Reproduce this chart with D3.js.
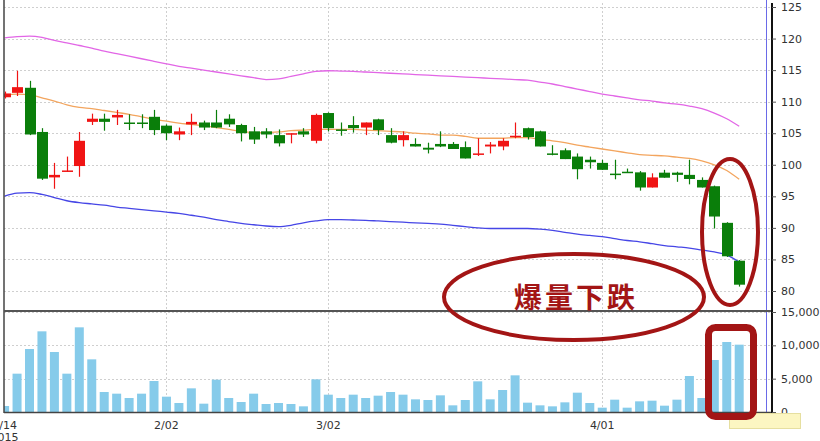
<!DOCTYPE html>
<html><head><meta charset="utf-8">
<script src="https://cdn.jsdelivr.net/npm/d3@7"></script>
<style>body{margin:0;background:#fff;overflow:hidden}svg{display:block;font-family:"DejaVu Sans",Verdana,sans-serif}</style>
</head><body><svg id="c" width="820" height="441"></svg>
<script>
const dates = ["1/14","1/15","1/16","1/19","1/20","1/21","1/22","1/23","1/26","1/27","1/28","1/29","1/30",
  "2/02","2/03","2/04","2/05","2/06","2/09","2/10","2/11","2/12","2/13","2/24","2/25","2/26",
  "3/02","3/03","3/04","3/05","3/06","3/09","3/10","3/11","3/12","3/13","3/16","3/17","3/18","3/19","3/20","3/23","3/24","3/25","3/26","3/27","3/30","3/31",
  "4/01","4/02","4/07","4/08","4/09","4/10","4/13","4/14","4/15","4/16","4/17","4/20"];
const openP  = [110.7,111.4,112.2,105.2,98.0,98.9,99.8,106.8,107.3,107.5,106.7,106.7,107.6,106.2,104.8,106.4,106.7,106.7,107.3,106.3,105.3,105.3,104.7,104.8,105.3,103.8,108.2,105.6,106.3,105.9,107.2,104.7,103.9,103.3,102.7,103.3,103.3,102.8,101.6,102.9,102.9,104.4,105.8,105.3,101.8,102.3,101.3,100.8,100.3,98.6,98.9,98.8,96.4,98.75,98.75,98.4,97.6,96.6,90.8,84.8];
const highP  = [111.6,114.9,113.3,105.8,100.3,101.3,105.2,108.1,108.1,108.7,108.0,108.0,108.7,106.4,105.9,108.1,107.0,108.7,108.0,106.5,106.0,105.8,105.6,105.0,105.8,108.1,108.3,106.7,107.7,106.7,107.3,105.8,105.3,104.2,103.5,105.3,103.6,103.7,104.2,103.6,104.2,106.7,105.9,105.4,103.1,102.6,101.8,101.3,100.8,100.8,99.4,99.0,98.65,99.2,98.9,100.8,98.0,96.7,90.9,84.9];
const lowP   = [110.5,110.9,104.7,97.6,96.2,98.9,98.1,106.3,105.4,106.3,105.5,105.8,104.7,103.9,103.9,104.7,105.5,105.8,106.0,103.7,103.3,104.2,102.9,103.4,104.4,103.4,105.3,104.6,105.1,104.7,104.7,103.4,102.9,102.9,101.8,102.8,102.5,101.0,101.4,101.8,102.3,104.2,104.0,102.9,101.5,100.9,97.7,99.4,99.2,97.7,98.7,95.9,96.4,97.95,97.3,96.9,96.4,89.9,85.4,80.7];
const closeP = [111.3,112.3,104.8,97.8,98.4,99.1,103.8,107.3,106.8,107.9,106.5,106.5,105.5,105.0,105.3,106.8,105.9,105.9,106.4,105.0,104.0,104.8,103.4,105.0,104.8,107.9,105.8,105.4,105.8,106.7,105.5,103.5,104.7,102.9,102.4,102.9,102.5,101.0,101.8,103.2,103.8,104.6,104.4,102.9,101.6,100.9,99.3,100.4,99.2,98.4,98.7,96.4,98.0,97.95,98.4,97.75,96.4,91.8,85.5,81.0];
const volume = [900,5750,9450,12100,9000,5750,12700,7900,3000,2750,2100,2750,4650,2300,1350,3550,1250,4850,2100,1500,2750,1200,1350,1200,850,4900,2600,2100,2600,2100,2450,3000,2600,1900,1800,2500,1000,1800,4600,1900,3300,5500,1400,1000,850,1450,2900,1350,650,1850,650,1600,1700,950,1850,5400,2100,7800,10500,10100];
const ma20 = [111.0,111.2,111.1,110.6,110.1,109.5,109.1,108.9,108.6,108.3,108.0,107.6,107.2,106.9,106.6,106.4,106.2,105.9,105.6,105.3,105.1,105.1,105.2,105.4,105.5,105.6,105.6,105.6,105.6,105.5,105.4,105.3,105.2,105.0,104.9,104.7,104.7,104.5,104.2,104.2,104.2,104.3,104.3,104.0,103.8,103.5,103.1,102.8,102.5,102.2,101.9,101.6,101.5,101.4,101.2,101.0,100.6,100.0,99.1,97.7];
const bbUpper = [120.1,120.3,120.4,120.2,119.7,119.3,118.9,118.5,118.0,117.6,117.2,116.8,116.4,116.0,115.6,115.3,115.0,114.7,114.4,114.1,113.8,113.5,113.6,114.0,114.4,114.8,114.9,114.85,114.8,114.7,114.6,114.5,114.4,114.3,114.2,114.1,114.0,113.9,113.8,113.7,113.6,113.5,113.4,113.1,112.8,112.4,112.0,111.6,111.2,110.9,110.6,110.3,110.1,109.8,109.6,109.3,108.9,108.2,107.3,106.1];
const bbLower = [95.05,95.5,95.6,95.3,94.8,94.3,94.0,93.8,93.6,93.3,93.1,92.9,92.7,92.5,92.3,92.0,91.7,91.3,91.0,90.7,90.5,90.3,90.2,90.4,90.8,91.1,91.3,91.3,91.25,91.2,91.1,91.0,90.9,90.8,90.7,90.6,90.4,90.2,90.0,89.9,89.9,89.9,89.9,89.8,89.6,89.3,89.0,88.8,88.6,88.3,88.0,87.8,87.5,87.2,87.0,86.8,86.5,86.2,85.7,84.6];
const priceTicks = [80,85,90,95,100,105,110,115,120,125];
const volumeTicks = [0,5000,10000,15000];
const dateTickLabels = ["1/14","2/02","3/02","4/01"];
const yearLabel = "2015";
const annotationText = "爆量下跌";

const svg = d3.select("#c");
const L = 4, R = 772;
const n = dates.length;
const x = d3.scaleLinear().domain([0, n-1]).range([4.6, 739.2]);
const y = d3.scaleLinear().domain([80,125]).range([291,7]);
const yv = d3.scaleLinear().domain([0,15000]).range([412,312]);
const idx = d3.range(n);
const up = i => closeP[i] >= openP[i];
const RED = "#f01414", GREEN = "#0a7e0a";
const dark = "#a31515";

svg.append("defs").append("clipPath").attr("id","clip").append("rect")
  .attr("x",L).attr("y",0).attr("width",R-L).attr("height",413);

// gridlines
const grid = svg.append("g").attr("stroke","#cfcfcf").attr("stroke-dasharray","2,2").attr("stroke-width",1);
priceTicks.forEach(t => grid.append("line").attr("x1",L).attr("x2",R).attr("y1",Math.round(y(t))+0.5).attr("y2",Math.round(y(t))+0.5));
volumeTicks.filter(t=>t>0).forEach(t => grid.append("line").attr("x1",L).attr("x2",R).attr("y1",Math.round(yv(t))+0.5).attr("y2",Math.round(yv(t))+0.5));
dateTickLabels.slice(1).forEach(d => {
  const xi = Math.round(x(dates.indexOf(d)))+0.5;
  grid.append("line").attr("x1",xi).attr("x2",xi).attr("y1",3).attr("y2",310);
  grid.append("line").attr("x1",xi).attr("x2",xi).attr("y1",313).attr("y2",412);
});

const plot = svg.append("g").attr("clip-path","url(#clip)");

// volume bars
plot.append("g").selectAll("rect").data(idx).join("rect")
  .attr("x", i => x(i)-4.5).attr("width",9)
  .attr("y", i => yv(volume[i])).attr("height", i => yv(0)-yv(volume[i]))
  .attr("fill","#86cbea");

// bands & MA
const line = arr => d3.line().x((d,i)=>x(i)).y(d=>y(d)).curve(d3.curveMonotoneX)(arr);
plot.append("path").attr("d",line(bbUpper)).attr("fill","none").attr("stroke","#e266e6").attr("stroke-width",1.3);
plot.append("path").attr("d",line(bbLower)).attr("fill","none").attr("stroke","#4646e6").attr("stroke-width",1.3);
plot.append("path").attr("d",line(ma20)).attr("fill","none").attr("stroke","#f3a55e").attr("stroke-width",1.3);

// candles
const cg = plot.append("g");
cg.selectAll("line").data(idx).join("line")
  .attr("x1", i=>Math.round(x(i))+0.5).attr("x2", i=>Math.round(x(i))+0.5)
  .attr("y1", i=>y(highP[i])).attr("y2", i=>y(lowP[i]))
  .attr("stroke", i=>up(i)?RED:GREEN).attr("stroke-width",1.2);
cg.selectAll("rect").data(idx).join("rect")
  .attr("x", i=>Math.round(x(i))-5).attr("width",11)
  .attr("y", i=>y(Math.max(openP[i],closeP[i])))
  .attr("height", i=>Math.max(1.5, Math.abs(y(openP[i])-y(closeP[i]))))
  .attr("fill", i=>up(i)?RED:GREEN);

// crosshair
svg.append("line").attr("x1",766.5).attr("x2",766.5).attr("y1",0).attr("y2",413).attr("stroke","#6a6ae8").attr("stroke-width",1);

// frame
const fr = svg.append("g").attr("stroke","#444").attr("fill","none");
fr.append("line").attr("x1",L).attr("x2",L).attr("y1",0).attr("y2",413).attr("stroke-width",1.5);
fr.append("line").attr("x1",L).attr("x2",R).attr("y1",311).attr("y2",311).attr("stroke-width",2).attr("stroke","#555");
fr.append("line").attr("x1",L).attr("x2",R).attr("y1",412.5).attr("y2",412.5).attr("stroke-width",1.5);
fr.append("line").attr("x1",R).attr("x2",R).attr("y1",3).attr("y2",413).attr("stroke-width",2).attr("stroke","#111");

// right axes
const pa = svg.append("g").attr("transform",`translate(${R},0)`)
  .call(d3.axisRight(y).tickValues(priceTicks).tickSize(4).tickPadding(5));
const va = svg.append("g").attr("transform",`translate(${R},0)`)
  .call(d3.axisRight(yv).tickValues(volumeTicks).tickSize(4).tickPadding(5).tickFormat(d3.format(",")));
[pa,va].forEach(a=>{a.select(".domain").remove();a.selectAll("text").attr("font-size",11).attr("fill","#333").attr("font-family","DejaVu Sans, sans-serif");a.selectAll("line").attr("stroke","#555");});

// yellow cursor box
svg.append("rect").attr("x",729.5).attr("y",413.5).attr("width",71).attr("height",15).attr("fill","#fcf6c2").attr("stroke","#e6dfa0");

// x labels
const xl = svg.append("g").attr("font-size",11).attr("fill","#333").attr("text-anchor","middle");
dateTickLabels.forEach(d => {
  xl.append("text").attr("x", x(dates.indexOf(d))).attr("y",429).text(d);
});
xl.append("text").attr("x", x(0)).attr("y",441).text(yearLabel);

// annotations
const an = svg.append("g").attr("fill","none").attr("stroke",dark);
an.append("ellipse").attr("cx",574).attr("cy",297).attr("rx",130).attr("ry",43).attr("stroke-width",4);
an.append("ellipse").attr("cx",730).attr("cy",232).attr("rx",28).attr("ry",73).attr("stroke-width",4);
an.append("rect").attr("x",708.5).attr("y",327.5).attr("width",45).attr("height",89).attr("rx",7).attr("stroke-width",7);
svg.append("text").attr("x",576).attr("y",308).attr("text-anchor","middle")
  .attr("font-family","Noto Sans CJK TC, Noto Sans CJK SC, sans-serif").attr("font-weight","bold")
  .attr("font-size",28).attr("letter-spacing",3).attr("fill",dark).text(annotationText);
</script></body></html>
